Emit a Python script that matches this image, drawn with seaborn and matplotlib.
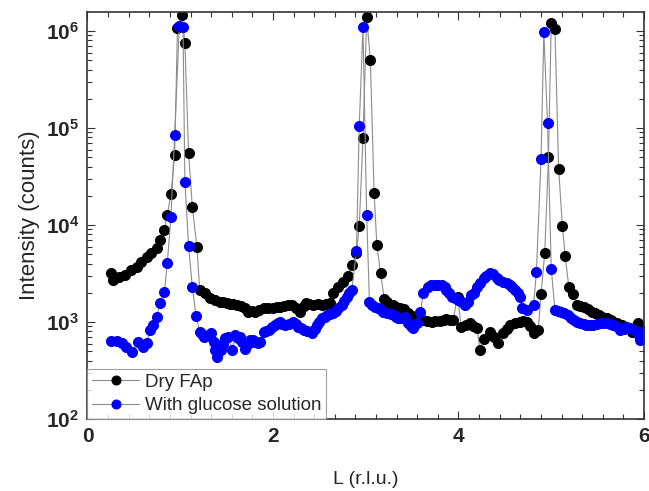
import numpy as np
import pandas as pd
import matplotlib

matplotlib.use("Agg")
import matplotlib.pyplot as plt
import seaborn as sns
from matplotlib.ticker import MultipleLocator, FixedLocator, FuncFormatter, LogLocator, NullFormatter

sns.set_theme(style="ticks")
plt.rcParams.update(
    {
        "font.family": ["Liberation Sans", "DejaVu Sans"],
        "mathtext.fontset": "custom",
        "mathtext.bf": "Liberation Sans:bold",
        "mathtext.rm": "Liberation Sans",
    }
)

# --- data ---
dry_L = [
    0.25, 0.28, 0.34, 0.40, 0.47, 0.53, 0.58, 0.64, 0.69, 0.75, 0.78, 0.83, 0.86, 0.90,
    0.94, 0.97, 1.02, 1.05, 1.09, 1.13, 1.18, 1.21, 1.27, 1.32, 1.38, 1.43, 1.46, 1.50,
    1.54, 1.57, 1.61, 1.66, 1.70, 1.73, 1.77, 1.81, 1.85, 1.90, 1.95, 2.00, 2.04, 2.08,
    2.12, 2.16, 2.20, 2.25, 2.29, 2.33, 2.36, 2.39, 2.43, 2.48, 2.53, 2.57, 2.62, 2.65,
    2.70, 2.76, 2.81, 2.85, 2.90, 2.93, 2.97, 3.01, 3.05, 3.09, 3.12, 3.16, 3.20, 3.23,
    3.26, 3.29, 3.33, 3.37, 3.41, 3.46, 3.50, 3.55, 3.58, 3.62, 3.66, 3.71, 3.75, 3.80,
    3.84, 3.87, 3.91, 3.94, 3.99, 4.03, 4.08, 4.12, 4.16, 4.20, 4.23, 4.27, 4.34, 4.38,
    4.43, 4.48, 4.52, 4.56, 4.61, 4.66, 4.70, 4.74, 4.77, 4.81, 4.86, 4.89, 4.93, 4.97,
    5.00, 5.04, 5.08, 5.12, 5.15, 5.19, 5.23, 5.28, 5.31, 5.35, 5.40, 5.44, 5.47, 5.51,
    5.55, 5.60, 5.64, 5.67, 5.71, 5.76, 5.81, 5.87, 5.91, 5.94, 5.98,
]
dry_I = [
    3180, 2710, 2930, 3050, 3440, 3720, 4190, 4710, 5100, 5750, 7000, 8870, 12700, 20700,
    52700, 1.07e6, 1.46e6, 7.5e5, 55600, 15500, 5890, 2140, 1980, 1750, 1690, 1620, 1600, 1560,
    1540, 1530, 1500, 1460, 1380, 1280, 1300, 1280, 1330, 1380, 1400, 1380, 1420, 1440,
    1450, 1480, 1500, 1400, 1280, 1450, 1580, 1530, 1500, 1520, 1500, 1520, 1560, 1980,
    2310, 2600, 2980, 3870, 5100, 9770, 7.8e4, 1.38e6, 5.0e5, 2.15e4, 6200, 3180, 1730, 1600,
    1500, 1480, 1440, 1400, 1350, 1230, 1150, 1090, 1070, 1050, 1030, 1010, 1020, 1030,
    1050, 1070, 1060, 1050, 1800, 895, 940, 970, 900, 860, 514, 663, 795, 700,
    603, 764, 850, 930, 980, 1010, 1020, 1010, 900, 764, 828, 1950, 5180, 50600,
    1.2e6, 1.04e6, 37500, 9840, 4790, 2280, 1950, 1500, 1460, 1440, 1350, 1280, 1230, 1180,
    1130, 1090, 1050, 1010, 980, 930, 880, 795, 850, 970, 828,
]

wet_L = [
    0.25, 0.32, 0.37, 0.42, 0.48, 0.55, 0.60, 0.64, 0.67, 0.71, 0.75, 0.78, 0.83, 0.86,
    0.90, 0.94, 0.99, 1.03, 1.05, 1.09, 1.13, 1.17, 1.21, 1.23, 1.26, 1.30, 1.33, 1.36,
    1.38, 1.40, 1.44, 1.46, 1.48, 1.52, 1.56, 1.59, 1.62, 1.64, 1.67, 1.70, 1.73, 1.75,
    1.78, 1.81, 1.84, 1.86, 1.90, 1.93, 1.96, 1.99, 2.02, 2.05, 2.08, 2.10, 2.13, 2.17,
    2.22, 2.25, 2.27, 2.30, 2.33, 2.37, 2.42, 2.45, 2.47, 2.50, 2.53, 2.56, 2.58, 2.62,
    2.65, 2.68, 2.70, 2.74, 2.77, 2.80, 2.82, 2.85, 2.90, 2.93, 2.97, 3.01, 3.04, 3.07,
    3.10, 3.13, 3.15, 3.19, 3.23, 3.27, 3.30, 3.33, 3.35, 3.38, 3.42, 3.46, 3.49, 3.51,
    3.55, 3.59, 3.62, 3.67, 3.70, 3.75, 3.78, 3.82, 3.85, 3.87, 3.90, 3.93, 3.96, 4.00,
    4.04, 4.07, 4.10, 4.14, 4.17, 4.20, 4.23, 4.27, 4.30, 4.34, 4.37, 4.41, 4.44, 4.48,
    4.52, 4.56, 4.58, 4.61, 4.64, 4.66, 4.68, 4.74, 4.81, 4.84, 4.89, 4.92, 4.96, 5.00,
    5.04, 5.07, 5.11, 5.14, 5.18, 5.21, 5.24, 5.28, 5.31, 5.35, 5.38, 5.42, 5.45, 5.49,
    5.53, 5.56, 5.60, 5.63, 5.67, 5.70, 5.74, 5.78, 5.81, 5.85, 5.89, 5.93, 5.96, 5.98,
]
wet_I = [
    641, 641, 603, 556, 487, 627, 556, 603, 828, 930, 1135, 1560, 2050, 4030,
    12200, 84700, 1.13e6, 1.1e6, 27900, 6130, 2310, 1160, 795, 760, 705, 720, 764, 627,
    520, 438, 514, 600, 679, 700, 514, 735, 690, 705, 620, 523, 600, 652,
    650, 627, 610, 627, 795, 800, 828, 880, 930, 980, 1010, 960, 930, 960,
    1010, 950, 895, 860, 828, 800, 776, 850, 930, 1000, 1090, 1130, 1180, 1200,
    1230, 1300, 1380, 1500, 1650, 1820, 2000, 2140, 5430, 1.05e5, 1.1e6, 12700, 1620, 1500,
    1440, 1400, 1350, 1280, 1230, 1200, 1180, 1130, 1090, 1100, 1135, 970, 900, 860,
    970, 1260, 1980, 2310, 2380, 2400, 2420, 2400, 2300, 2140, 2000, 1820, 1750, 1690,
    1600, 1500, 1600, 1900, 2000, 2310, 2500, 2820, 3000, 3180, 3100, 2820, 2700, 2600,
    2500, 2400, 2300, 2140, 2000, 1820, 1380, 1330, 1500, 3300, 47900, 9.7e5, 1.13e5, 3520,
    1330, 1300, 1280, 1250, 1180, 1100, 1050, 1000, 970, 950, 930, 930, 930, 950,
    970, 970, 970, 950, 930, 900, 828, 850, 895, 860, 828, 750, 652, 795,
]

series_names = ["Dry FAp", "With glucose solution"]
x_ticks = [0, 2, 4, 6]
y_ticks = [1e2, 1e3, 1e4, 1e5, 1e6]

dry = pd.DataFrame({"L": dry_L, "I": dry_I})
wet = pd.DataFrame({"L": wet_L, "I": wet_I})

fig = plt.figure(figsize=(6.49, 4.91), dpi=100)
ax = fig.add_axes([0.1348, 0.1466, 0.8575, 0.829])

for df, c, name in [(dry, "black", series_names[0]), (wet, "#0000ff", series_names[1])]:
    sns.lineplot(
        data=df, x="L", y="I", ax=ax, color="#8c8c8c", linewidth=0.8,
        marker="o", markersize=7.2, markerfacecolor=c, markeredgecolor=c,
        label=name, sort=False, estimator=None,
    )

ax.set_yscale("log")
ax.set_xlim(0, 6)
ax.set_ylim(100, 1.57e6)

ax.xaxis.set_major_locator(FixedLocator(x_ticks))
ax.xaxis.set_minor_locator(MultipleLocator(2 / 9))
ax.xaxis.set_major_formatter(FuncFormatter(lambda v, p: f"{v:.0f}"))
ax.yaxis.set_major_locator(FixedLocator(y_ticks))
ax.yaxis.set_minor_locator(LogLocator(base=10, subs=np.arange(2, 10)))
ax.yaxis.set_minor_formatter(NullFormatter())
ax.yaxis.set_major_formatter(FuncFormatter(lambda v, p: r"$\mathbf{10^{%d}}$" % round(np.log10(v))))

ax.tick_params(which="both", direction="in", top=True, right=True, color="#333333", width=0.8)
ax.tick_params(which="major", length=6)
ax.tick_params(which="minor", length=3.5)
ax.tick_params(axis="x", which="major", labelsize=15, pad=6)
ax.tick_params(axis="y", which="major", labelsize=15, pad=6)
for lab in ax.get_xticklabels():
    lab.set_fontweight("bold")
for sp in ax.spines.values():
    sp.set_linewidth(1.2)
    sp.set_color("#333333")

ax.set_xlabel("L (r.l.u.)", fontsize=14, labelpad=18)
ax.set_ylabel("Intensity (counts)", fontsize=16, labelpad=4)

leg = ax.legend(
    loc="lower left", frameon=True, fancybox=False, fontsize=13.5,
    borderaxespad=0, handlelength=2.5, handletextpad=0.3, borderpad=0.25,
    labelspacing=0.35, markerscale=0.9,
)
leg.get_frame().set_edgecolor("#888888")
leg.get_frame().set_linewidth(0.8)

fig.savefig("out.png", dpi=100, facecolor="w")
plt.close()
